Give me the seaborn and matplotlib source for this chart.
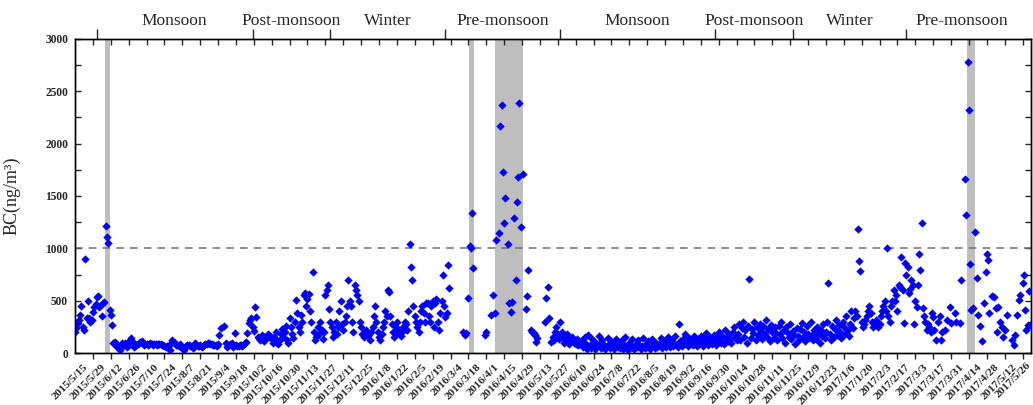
import numpy as np
import pandas as pd
import matplotlib
matplotlib.use("Agg")
import matplotlib.pyplot as plt
import matplotlib.transforms as mtrans
from matplotlib.ticker import MultipleLocator
import seaborn as sns

nan = np.nan

# ---------------- data (daily BC, ng/m3) ----------------
pre_2015_start = "2015-05-01"
pre_2015 = [203, 239, 290, 315, 360, 452, 251, 220, 895, 330,
            497, 331, 299, 320, 395, 442, 470, 538, 545, 437,
            460, 354, 475, 490, 1216, 1111, 1054, 411, 363, 267, 100]

monsoon_2015_start = "2015-06-01"
monsoon_2015 = [108, 76, 60, 45, 29, 67, 93, 80, 93, 75, 60, 93, 124, 140, 108,
                60, 70, 76, 85, 95, 108, 118, 100, 76, 85, 90, 80, 85, 95, 88,
                80, 90, 85, 78, 82, 90, 85, 80, 75, 70, 60, 65, 60, 29, 99, 124,
                108, 95, 80, 75, 70, 85, 60, 45, 29, 55, 70, 80, 75, 65, 70,
                45, 60, 93, 80, 70, 65, 75, 60, 70, 80, 85, 90, 95, 100, 90, 85,
                80, 75, 80, 70, 90, 172, 240, nan, nan, 258, 93, 60, 70, 85, 75,
                93, 60, 191, 80, 70, 65, 75, 80, 70, 85, 95, 108, 188, 283, 315,
                331, 251, 210, 442, 347, 156, 140, 120, 172, 124, 110, 130, 156, 180, 150]

post_2015_start = "2015-10-01"
post_2015 = [160, 130, 100, 150, 200, 120, 90, 110, 180, 230, 150, 200, 260, 120, 100,
             330, 250, 180, 140, 300, 506, 380, 250, 200, 363, 300, 550, 570, 450, 520, 560,
             400, 300, 770, 200, 120, 150, 250, 180, 300, 220, 130, 200, 550, 600, 650,
             420, 300, 250, 150, 200, 300, 180, 250, 400, 500, 280, 220, 300, 350, 450]

winter_2016_start = "2015-12-01"
winter_2016 = [700, 500, 450, 300, 200, 650, 600, 550, 500, 300, 250, 180, 150, 200, 220,
               160, 180, 120, 200, 250, 350, 450, 300, 200, 150, 120, 180, 250, 300, 400, 350,
               600, 580, 350, 280, 200, 150, 250, 300, 220, 180, 160, 200, 250, 300, 280,
               220, 400, 1040, 820, 700, 450, 350, 300, 250, 200, 300, 400, 450, 380, 300, 480,
               480, 350, 300, 450, 500, 250, 480, 520, 300, 220, 379, 500, 745, 450, 347,
               379, 841, 618, nan, nan, nan, nan, nan, nan, nan, nan, nan, nan, 204]

pre_2016_start = "2016-03-01"
pre_2016 = [172, 188, nan, 528, 1022, 1000, 1340, 809, nan, nan, nan, nan, nan, nan, nan, nan,
            172, 204, nan, nan, nan, 363, 554, nan, 385, 1080, nan, 1143, 2169, 2369, 1732,
            1239, 1478, nan, 1038, 475, 395, 490, nan, 1287, 697, 1446, 1679, 2391, 1207, nan,
            1710, nan, 417, 545, 793, nan, 220, 204, 188, 172, 108, 140, nan, nan, nan,
            nan, nan, 299, 523, 634, 331, nan, 108, 150, 120, 200, 250, 180, 130, 300, 200,
            150, 100, 120, 180, 130, 90, 110, 150, 120, 100, 90, 130, 80, 110, 100]

monsoon_2016_start = "2016-06-01"
monsoon_2016 = [120, 60, 150, 90, 40, 170, 80, 50, 130, 60, 40, 100, 70, 160, 90,
                50, 120, 80, 40, 60, 140, 90, 50, 110, 70, 40, 80, 130, 60, 90,
                50, 120, 40, 80, 150, 60, 30, 100, 70, 130, 50, 40, 90, 60, 120, 80,
                40, 70, 140, 50, 90, 60, 110, 40, 70, 130, 80, 50, 100, 60, 90,
                70, 140, 50, 110, 80, 60, 150, 90, 60, 120, 70, 100, 160, 80, 60,
                280, 110, 70, 130, 90, 180, 100, 70, 140, 90, 120, 80, 160, 100, 70, 130,
                90, 160, 110, 70, 140, 190, 100, 80, 150, 120, 90, 170, 110, 80, 140,
                200, 120, 100, 160, 90, 220, 140, 110, 180, 130, 100, 200, 250, 150, 120]

post_2016_start = "2016-10-01"
post_2016 = [180, 280, 120, 240, 300, 150, 220, 100, 260, 710, 140, 230, 190, 300, 120,
             250, 170, 280, 210, 130, 260, 180, 320, 150, 230, 110, 270, 200, 140, 250, 190,
             120, 260, 180, 300, 140, 220, 100, 250, 190, 150, 280, 130, 210, 170, 90,
             240, 160, 120, 230, 290, 150, 200, 110, 260, 180, 140, 300, 170, 120, 220]

winter_2017_start = "2016-12-01"
winter_2017 = [130, 250, 180, 100, 220, 160, 280, 140, 200, 300, 670, 180, 120, 260, 150,
               230, 320, 170, 270, 200, 140, 300, 250, 180, 350, 220, 160, 280, 400, 240, 330,
               400, 350, 1180, 880, 780, 300, 250, 280, 320, 350, 400, 450, 380, 300, 250,
               280, 320, 300, 250, 280, 350, 400, 450, 500, 400, 1000, 350, 300, 450, 500, 600,
               500, 550, 400, 650, 634, 920, 602, 284, 857, 745, 824, 570, 608, 697, 650,
               277, 500, 442, 650, 943, 793, 1239, 427, 350, 300, 220, 280, 250]

pre_2017_start = "2017-03-01"
pre_2017 = [204, 379, 347, 220, 124, nan, 300, 354, 124, 200, nan, 220, nan, 315, nan,
            442, 284, nan, nan, 379, 299, nan, nan, 284, 697, nan, nan, 1660, 1318, 2777, 2319,
            847, 411, 427, nan, 1156, 719, 363, nan, 258, 115, nan, 481, 777, 943, 889,
            379, nan, 545, nan, 532, 427, 204, 442, 299, nan, 251, 156, 220, nan, 363,
            nan, nan, nan, 124, 76, 172, nan, 363, 506, 554, nan, 666, 745, 411, 220, 267, 595, 267]

segments = [(pre_2015_start, pre_2015), (monsoon_2015_start, monsoon_2015),
            (post_2015_start, post_2015), (winter_2016_start, winter_2016),
            (pre_2016_start, pre_2016), (monsoon_2016_start, monsoon_2016),
            (post_2016_start, post_2016), (winter_2017_start, winter_2017),
            (pre_2017_start, pre_2017)]

# shaded episodes (start, end)
shade_starts = ["2015-05-24 17:00", "2016-03-04 14:00", "2016-03-24 17:00", "2017-03-29 17:00"]
shade_ends = ["2015-05-28 07:00", "2016-03-08 19:00", "2016-04-15 10:00", "2017-04-04 19:00"]

# seasons on the top axis
season_bounds = ["2015-05-18", "2015-09-17", "2015-11-17", "2016-02-15", "2016-05-15",
                 "2016-09-13", "2016-11-13", "2017-02-10", "2017-05-08"]
season_names = ["Monsoon", "Post-monsoon", "Winter", "Pre-monsoon",
                "Monsoon", "Post-monsoon", "Winter", "Pre-monsoon"]

tick_start, tick_end = "2015-05-15", "2017-05-26"
y_ticks = [0, 500, 1000, 1500, 2000, 2500, 3000]
threshold = 1000

# ---------------- build frame ----------------
frames = []
for start, vals in segments:
    d = pd.date_range(start, periods=len(vals), freq="D")
    frames.append(pd.DataFrame({"date": d, "bc": vals}))
df = pd.concat(frames).dropna()

# ---------------- plot ----------------
sns.set_style("ticks")
plt.rcParams["font.family"] = ["Liberation Serif", "DejaVu Serif"]

fig = plt.figure(figsize=(10.33, 4.05), dpi=100)
ax = fig.add_axes([75 / 1033, 52 / 405, 956 / 1033, 314 / 405])

for a, b in zip(shade_starts, shade_ends):
    ax.axvspan(pd.Timestamp(a), pd.Timestamp(b), color="#BEBEBE", lw=0, zorder=1)
ax.axhline(threshold, color="#707070", lw=1.1, ls=(0, (5, 4)), zorder=2)

sns.scatterplot(data=df, x="date", y="bc", marker="D", s=18, color="#0000FF",
                linewidth=0, ax=ax, zorder=3, legend=False)

xmin, xmax = pd.Timestamp("2015-04-30 22:00"), pd.Timestamp("2017-05-18 15:00")
ax.set_xlim(xmin, xmax)
ax.set_ylim(0, 3000)
ax.set_xlabel("")
ax.set_ylabel("BC(ng/m³)", fontsize=13)
ax.yaxis.set_label_coords((20.7 - 75) / 956, 0.5)

# y axis
ax.set_yticks(y_ticks)
ax.set_yticklabels([str(v) for v in y_ticks], fontweight="bold", fontsize=8.3)
ax.yaxis.set_minor_locator(MultipleLocator(250))
ax.tick_params(axis="y", which="both", direction="in", left=True, right=True,
               labelright=False, length=4, width=1, pad=5)

# x axis (bottom)
tick_dates = pd.date_range(tick_start, tick_end, freq="14D")
in_view = [d for d in tick_dates if d <= xmax]
lab_size = 8.2
ax.set_xticks(in_view)
ax.set_xticklabels([f"{d.year}/{d.month}/{d.day}" for d in in_view],
                   rotation=45, ha="right", va="top", rotation_mode="anchor",
                   fontweight="bold", fontsize=lab_size)
ax.tick_params(axis="x", which="major", direction="out", length=4, width=1,
               top=False, bottom=True, pad=3)
offset = mtrans.ScaledTranslation(-10 / 100, 0, fig.dpi_scale_trans)
for lab in ax.get_xticklabels():
    lab.set_transform(lab.get_transform() + offset)
# last label whose tick lies past the axis end
for d in tick_dates:
    if d > xmax:
        ax.text(d, 0, f"{d.year}/{d.month}/{d.day}", rotation=45, ha="right", va="top",
                rotation_mode="anchor", fontweight="bold", fontsize=lab_size, clip_on=False,
                transform=ax.get_xaxis_transform()
                + mtrans.ScaledTranslation(-14 / 100, -7 / 100, fig.dpi_scale_trans))

# top axis: 14-day minor ticks inward, season boundaries outward
axt = ax.twiny()
axt.set_xlim(xmin, xmax)
axt.set_xticks([pd.Timestamp(s) for s in season_bounds[:-1]])
axt.set_xticklabels([])
axt.set_xticks(in_view, minor=True)
axt.tick_params(axis="x", which="major", direction="out", length=7, width=1)
axt.tick_params(axis="x", which="minor", direction="in", length=4, width=1)
axt.grid(False)

sb = [pd.Timestamp(s) for s in season_bounds]
for i, name in enumerate(season_names):
    mid = sb[i] + (sb[i + 1] - sb[i]) / 2
    ax.text(mid, 1.058, name, transform=ax.get_xaxis_transform(), ha="center",
            va="center", fontsize=12.5)

for a in (ax, axt):
    for sp in a.spines.values():
        sp.set_linewidth(1.0)
        sp.set_color("black")
        sp.set_visible(True)

fig.savefig("out.png", dpi=100)
